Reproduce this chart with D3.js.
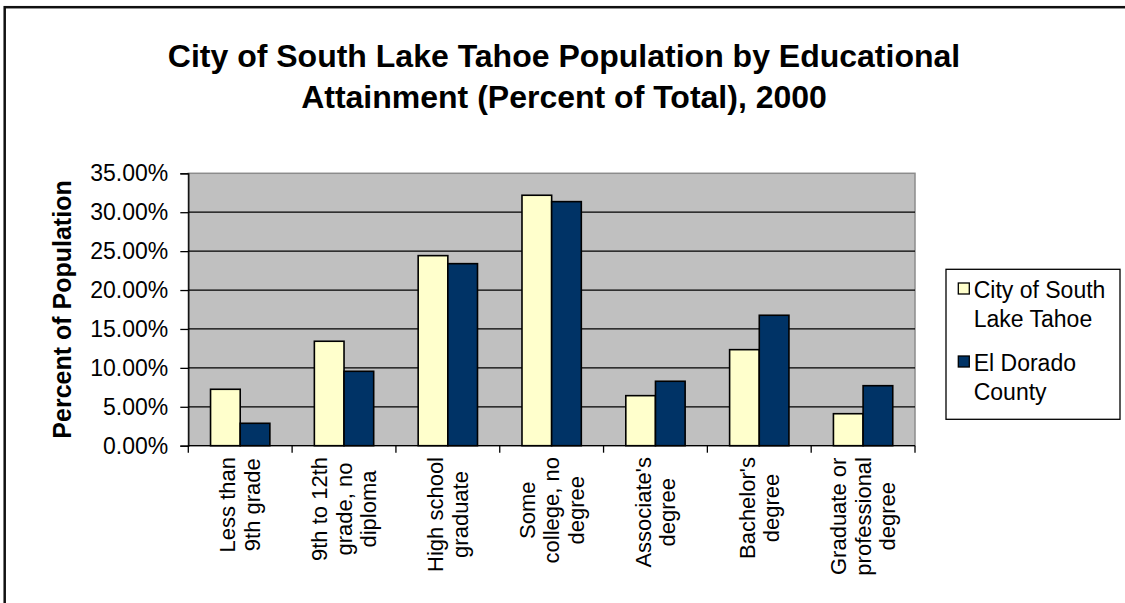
<!DOCTYPE html>
<html>
<head>
<meta charset="utf-8">
<script src="https://cdn.jsdelivr.net/npm/d3@7"></script>
<style>
  html, body { margin: 0; padding: 0; background: #ffffff; }
  svg { display: block; font-family: "Liberation Sans", Arial, Helvetica, sans-serif; }
</style>
</head>
<body>
<svg id="chart" width="1125" height="603"></svg>
<script>
// Educational attainment, persons 25+, 2000
const categories = [
  ["Less than", "9th grade"],
  ["9th to 12th", "grade, no", "diploma"],
  ["High school", "graduate"],
  ["Some", "college, no", "degree"],
  ["Associate's", "degree"],
  ["Bachelor's", "degree"],
  ["Graduate or", "professional", "degree"]
];
const seriesNames = [["City of South", "Lake Tahoe"], ["El Dorado", "County"]];
const southLakeTahoe = [0.0725, 0.1342, 0.2442, 0.3218, 0.0643, 0.1234, 0.0411];
const elDoradoCounty = [0.0288, 0.0956, 0.2339, 0.3136, 0.0828, 0.1676, 0.0771];
const yTicks = [0, 0.05, 0.10, 0.15, 0.20, 0.25, 0.30, 0.35];
const seriesColors = ["#ffffcc", "#003366"];
const titleLines = ["City of South Lake Tahoe Population by Educational", "Attainment (Percent of Total), 2000"];
const yTitle = "Percent of Population";

const svg = d3.select("#chart");

// outer chart frame
svg.append("rect")
  .attr("x", 4.7).attr("y", 7.2).attr("width", 1140).attr("height", 620)
  .attr("fill", "none").attr("stroke", "#111").attr("stroke-width", 2.5);

const plot = { left: 188.3, right: 915, top: 173.3, bottom: 445.7 };

const x0 = d3.scaleBand()
  .domain(d3.range(categories.length))
  .range([plot.left, plot.right])
  .paddingInner(0).paddingOuter(0);
// two bars per group, gap width 150% of a bar
const groupInner = 2 / 3.5;
const x1 = d3.scaleBand()
  .domain([0, 1])
  .range([0, x0.bandwidth() * groupInner]);
const groupOffset = (x0.bandwidth() - x0.bandwidth() * groupInner) / 2;

const y = d3.scaleLinear().domain([0, 0.35]).range([plot.bottom, plot.top]);

// plot background
svg.append("rect")
  .attr("x", plot.left).attr("y", plot.top)
  .attr("width", plot.right - plot.left).attr("height", plot.bottom - plot.top)
  .attr("fill", "#c0c0c0").attr("stroke", "#8c8c8c").attr("stroke-width", 1.5);

// gridlines
svg.append("g")
  .selectAll("line")
  .data(yTicks.filter(d => d > 0 && d < 0.35))
  .join("line")
  .attr("x1", plot.left).attr("x2", plot.right)
  .attr("y1", d => y(d)).attr("y2", d => y(d))
  .attr("stroke", "#000").attr("stroke-width", 1.2);

// bars
const values = [southLakeTahoe, elDoradoCounty];
const bars = [];
categories.forEach((c, i) => values.forEach((s, k) => bars.push({ i, k, v: s[i] })));
svg.append("g")
  .selectAll("rect")
  .data(bars)
  .join("rect")
  .attr("x", d => x0(d.i) + groupOffset + x1(d.k))
  .attr("y", d => y(d.v))
  .attr("width", x1.bandwidth())
  .attr("height", d => y(0) - y(d.v))
  .attr("fill", d => seriesColors[d.k])
  .attr("stroke", "#000").attr("stroke-width", 1.6);

// y axis
const yAxis = d3.axisLeft(y)
  .tickValues(yTicks)
  .tickFormat(d => (d * 100).toFixed(2) + "%")
  .tickSize(8).tickPadding(12);
const yg = svg.append("g").attr("transform", `translate(${plot.left},0)`).call(yAxis);
yg.select(".domain").attr("stroke", "#000").attr("stroke-width", 1.3);
yg.selectAll(".tick line").attr("stroke", "#000").attr("stroke-width", 1.3);
yg.selectAll(".tick text")
  .attr("font-size", 23).attr("fill", "#000")
  .attr("font-family", "'Liberation Sans', Arial, sans-serif");

// x axis with ticks at category boundaries
const boundaries = d3.range(categories.length + 1).map(i => plot.left + i * x0.step());
const xg = svg.append("g");
xg.append("line")
  .attr("x1", plot.left).attr("x2", plot.right)
  .attr("y1", plot.bottom).attr("y2", plot.bottom)
  .attr("stroke", "#000").attr("stroke-width", 1.3);
xg.selectAll("line.tk")
  .data(boundaries)
  .join("line").attr("class", "tk")
  .attr("x1", d => d).attr("x2", d => d)
  .attr("y1", plot.bottom).attr("y2", plot.bottom + 7)
  .attr("stroke", "#000").attr("stroke-width", 1.3);

// rotated category labels
const lineH = 24.5;
const labelFont = 22;
const labelTop = 457;
categories.forEach((lines, i) => {
  const cx = x0(i) + x0.bandwidth() / 2;
  const g = svg.append("g");
  const texts = g.selectAll("text")
    .data(lines)
    .join("text")
    .attr("font-size", labelFont)
    .attr("text-anchor", "middle")
    .attr("dominant-baseline", "central")
    .text(d => d);
  const maxLen = d3.max(texts.nodes(), n => n.getComputedTextLength());
  const cy = labelTop + maxLen / 2;
  texts.attr("transform", (d, j) =>
    `translate(${cx + (j - (lines.length - 1) / 2) * lineH},${cy}) rotate(-90)`);
});

// y axis title
svg.append("text")
  .attr("transform", `translate(71,${(plot.top + plot.bottom) / 2}) rotate(-90)`)
  .attr("text-anchor", "middle")
  .attr("font-size", 25).attr("font-weight", "bold")
  .text(yTitle);

// chart title
svg.append("g").selectAll("text")
  .data(titleLines)
  .join("text")
  .attr("x", 564).attr("y", (d, i) => 67 + i * 41)
  .attr("text-anchor", "middle")
  .attr("font-size", 32).attr("font-weight", "bold")
  .text(d => d);

// legend
const legend = svg.append("g");
legend.append("rect")
  .attr("x", 946).attr("y", 269.3).attr("width", 174).attr("height", 150)
  .attr("fill", "#fff").attr("stroke", "#000").attr("stroke-width", 1.3);
seriesNames.forEach((lines, k) => {
  const top = 283 + k * 73;
  legend.append("rect")
    .attr("x", 958.3).attr("y", top).attr("width", 11).attr("height", 11)
    .attr("fill", seriesColors[k]).attr("stroke", "#000").attr("stroke-width", 1.3);
  legend.selectAll(null)
    .data(lines)
    .join("text")
    .attr("x", 973.7).attr("y", (d, j) => top + 15.3 + j * 29)
    .attr("font-size", 23)
    .text(d => d);
});
</script>
</body>
</html>
